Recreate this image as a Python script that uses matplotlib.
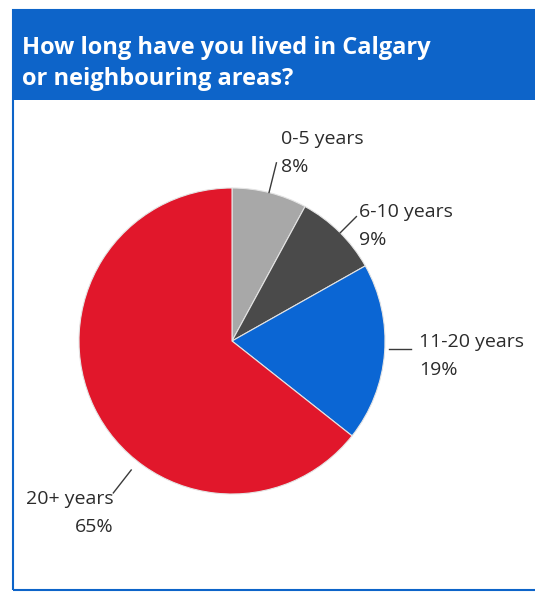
import numpy as np
import matplotlib.pyplot as plt
from matplotlib.patches import Rectangle

# survey answers: years lived in Calgary
categories = ['0-5 years', '6-10 years', '11-20 years', '20+ years']
shares = [8, 9, 19, 65]
colors = ['#a8a8a8', '#4a4a4a', '#0b66d4', '#e1172b']
title_lines = ['How long have you lived in Calgary', 'or neighbouring areas?']

plt.rcParams['font.family'] = ['Open Sans', 'DejaVu Sans']

W, H = 535, 593
fig = plt.figure(figsize=(W / 100, H / 100), dpi=100)
ax = fig.add_axes([0, 0, 1, 1])

cx, cy, r = 232, H - 341, 153
ax.pie(shares, colors=colors, startangle=90, counterclock=False,
       center=(cx, cy), radius=r,
       wedgeprops=dict(edgecolor='#e4e4e4', linewidth=0.8))
ax.set_xlim(0, W)
ax.set_ylim(0, H)
ax.set_aspect('equal')
ax.axis('off')

# panel frame and header bar
blue = '#0d64c9'
ax.add_patch(Rectangle((13, 3), W, H - 13, facecolor='none', edgecolor=blue, lw=1.5, zorder=0))
ax.add_patch(Rectangle((12, H - 100), W, 90, facecolor=blue, edgecolor='none', zorder=1))
ax.text(22, H - 54, title_lines[0], color='white', fontsize=17, fontweight='bold', va='baseline')
ax.text(22, H - 85, title_lines[1], color='white', fontsize=17, fontweight='bold', va='baseline')


def edge(angle, k):
    a = np.deg2rad(angle)
    return cx + k * r * np.cos(a), cy + k * r * np.sin(a)


txt = '#2b2b2b'
line_kw = dict(color='#3a3a3a', lw=1)

# labels: (x, first baseline, alignment)
label_pos = [(281, H - 144, 'left'), (359, H - 217, 'left'),
             (419, H - 347, 'left'), (114, H - 504, 'right')]
for cat, val, (x, y, ha) in zip(categories, shares, label_pos):
    ax.text(x, y, cat, fontsize=14, color=txt, ha=ha, va='baseline')
    ax.text(x, y - 28, f'{val}%', fontsize=14, color=txt, ha=ha, va='baseline')

# leader lines
for ang, k0, k1 in [(76, 1.0, 1.2), (45, 1.0, 1.15), (-128, 1.07, 1.26)]:
    p0, p1 = edge(ang, k0), edge(ang, k1)
    ax.plot([p0[0], p1[0]], [p0[1], p1[1]], **line_kw)
p0 = edge(-3, 1.03)
ax.plot([p0[0], p0[0] + 22], [p0[1], p0[1]], **line_kw)

fig.savefig('out.png', dpi=100)
